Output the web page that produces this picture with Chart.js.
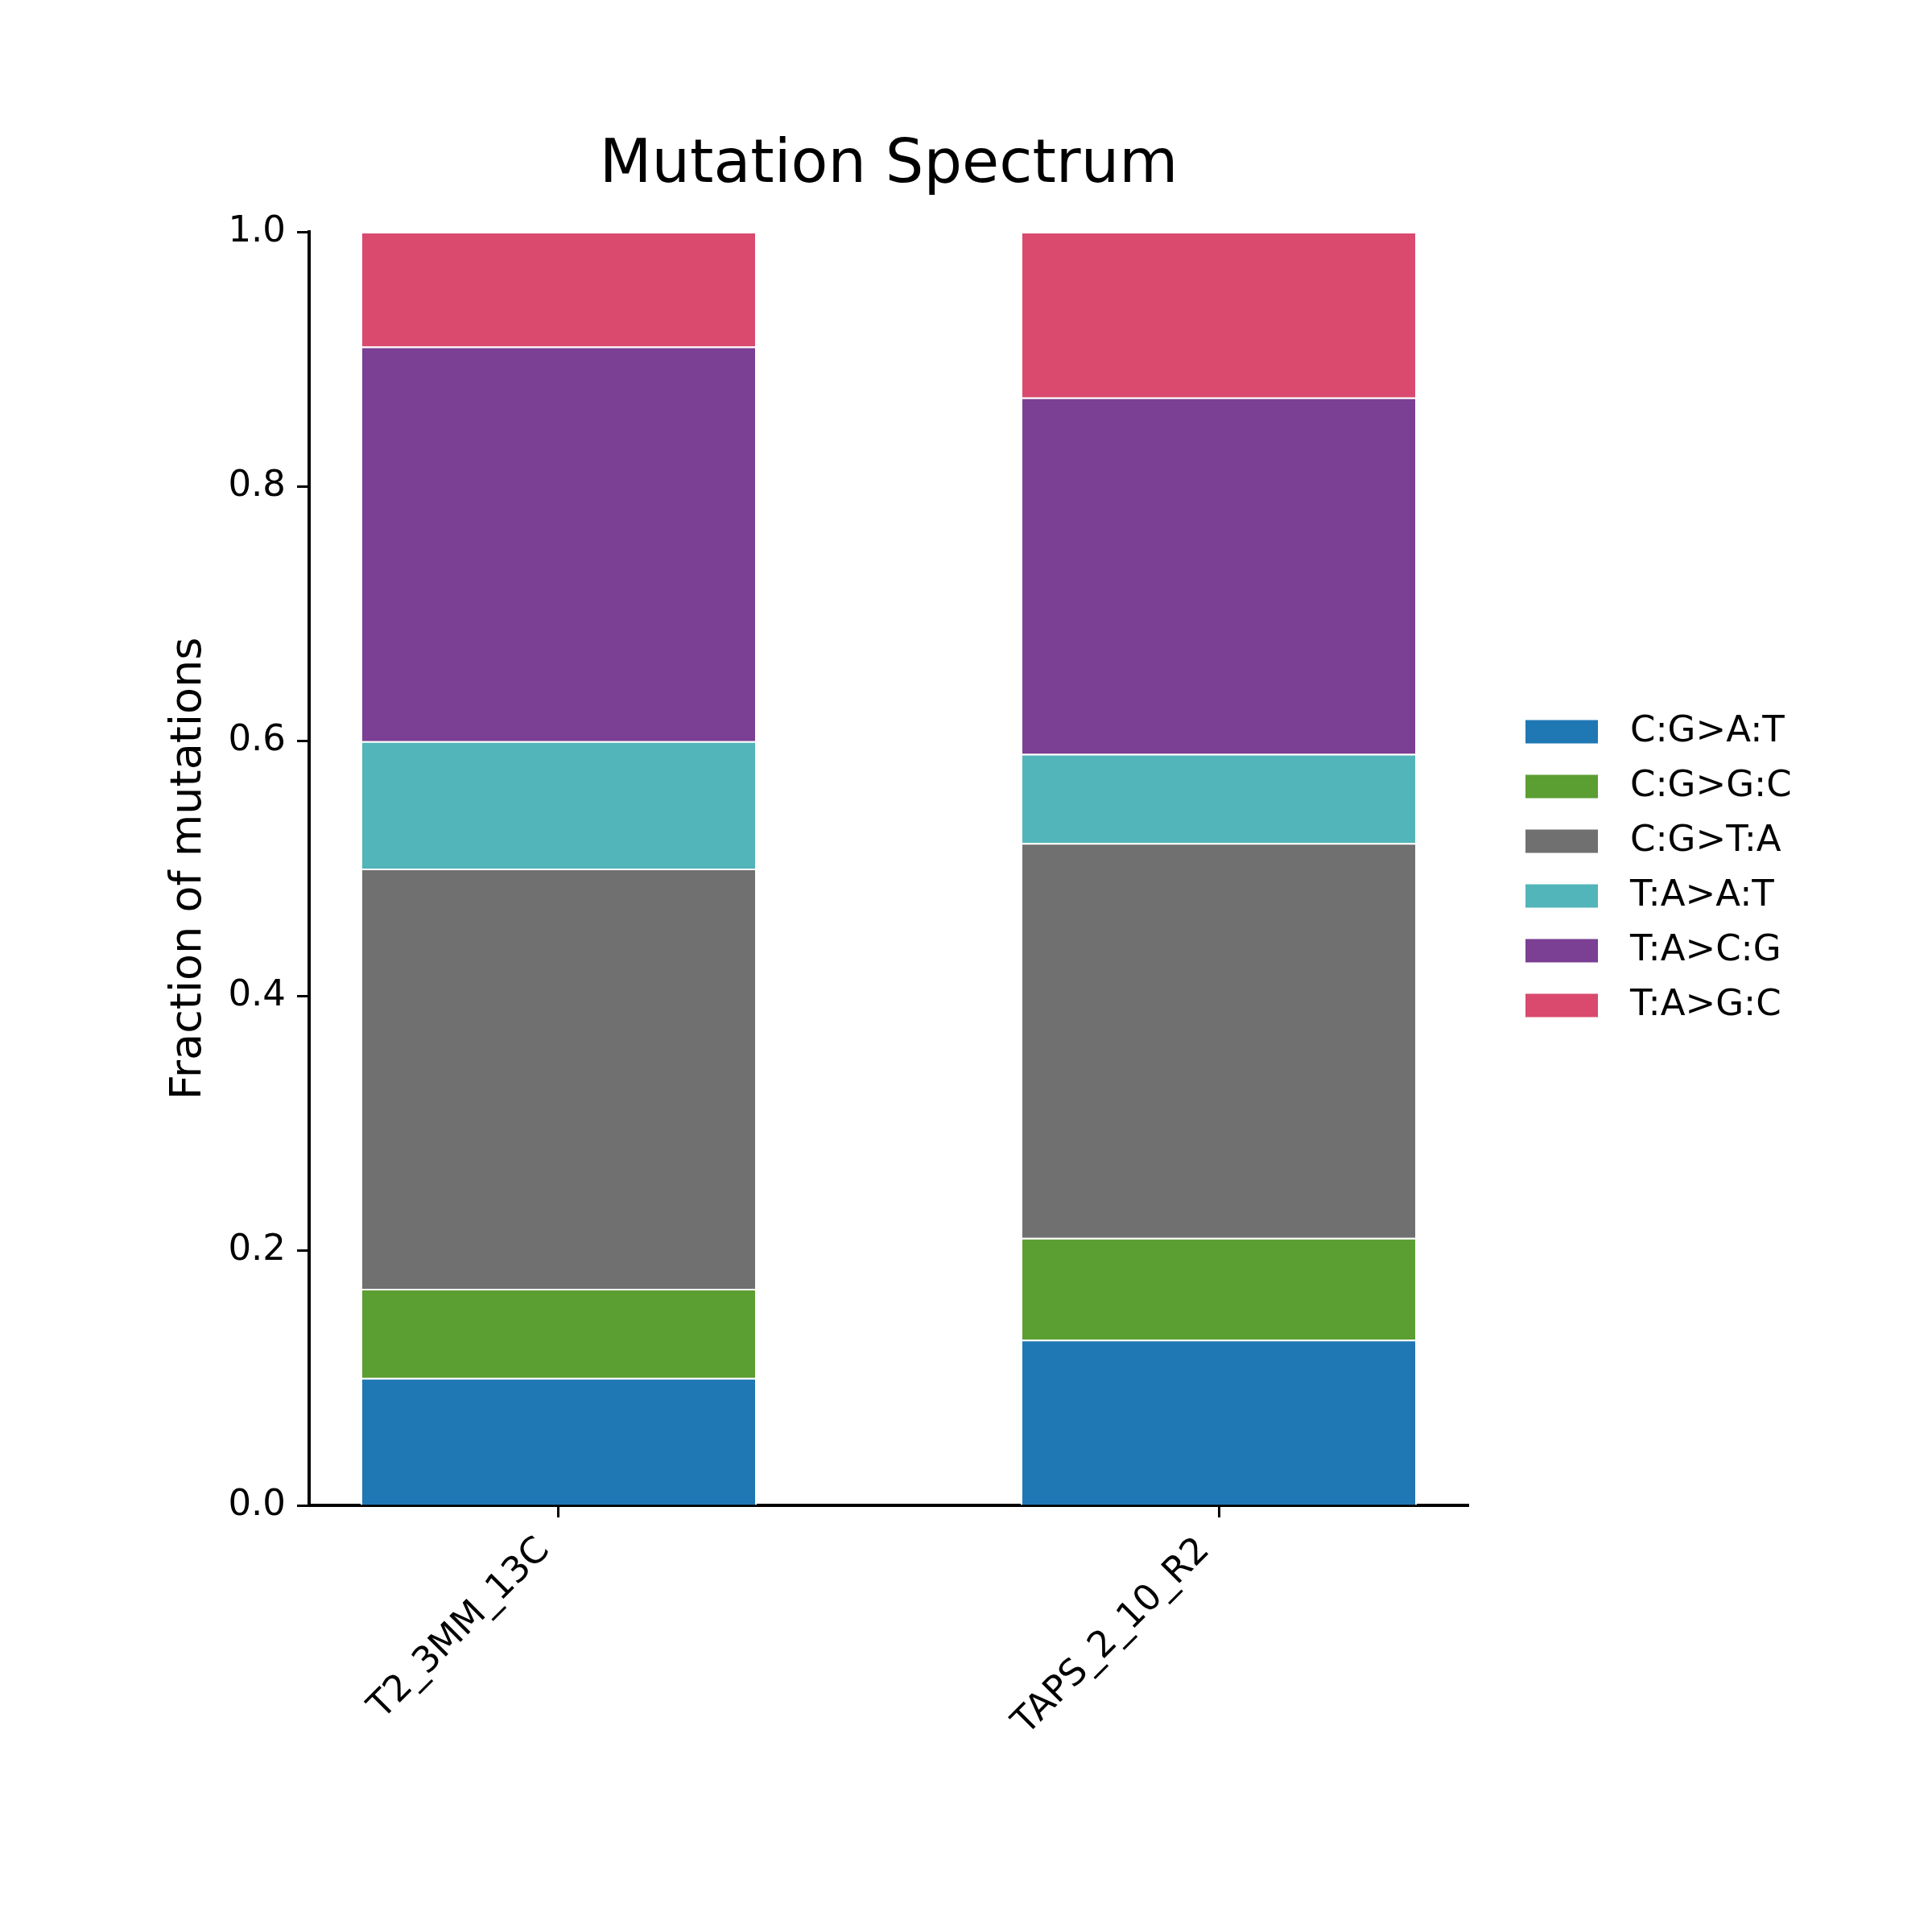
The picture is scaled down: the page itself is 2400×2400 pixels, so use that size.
<!DOCTYPE html>
<html>
<head>
<meta charset="utf-8">
<title>Mutation Spectrum</title>
<script src="https://cdn.jsdelivr.net/npm/chart.js@4.4.1/dist/chart.umd.min.js"></script>
<style>
  html, body { margin: 0; padding: 0; background: #ffffff; }
  #wrap { width: 2400px; height: 2400px; }
</style>
</head>
<body>
<div id="wrap"><canvas id="spectrumChart" width="2400" height="2400"></canvas></div>
<script>
document.addEventListener("DOMContentLoaded", () => {

    // --- DATA (fractions) ---
    const samples = ['T2_3MM_13C', 'TAPS_2_10_R2'];
    const mutationTypes = ['C:G>A:T', 'C:G>G:C', 'C:G>T:A', 'T:A>A:T', 'T:A>C:G', 'T:A>G:C'];
    const cgToAt = [0.10, 0.13];
    const cgToGc = [0.07, 0.08];
    const cgToTa = [0.33, 0.31];
    const taToAt = [0.10, 0.07];
    const taToCg = [0.31, 0.28];
    const taToGc = [0.09, 0.13];
    const yTicks = [0.0, 0.2, 0.4, 0.6, 0.8, 1.0];

    const seriesValues = [cgToAt, cgToGc, cgToTa, taToAt, taToCg, taToGc];

    // --- COLORS ---
    const typeColors = ['#1f77b4', '#5b9e32', '#707070', '#52b5b9', '#7b3f94', '#d94a6e'];

    const FONT = '"DejaVu Sans", sans-serif';

    // legend drawn to the right of the axes, centred on them
    const sideLegend = {
        id: 'sideLegend',
        afterDraw(chart) {
            const { ctx, chartArea } = chart;
            const datasets = chart.data.datasets;
            const rowGap = 68, boxW = 90, boxH = 29;
            const x0 = chartArea.right + 71;
            const midY = (chartArea.top + chartArea.bottom) / 2;
            ctx.save();
            ctx.font = '45px ' + FONT;
            ctx.textBaseline = 'middle';
            ctx.textAlign = 'left';
            datasets.forEach((ds, i) => {
                const y = midY + (i - (datasets.length - 1) / 2) * rowGap;
                ctx.fillStyle = ds.backgroundColor;
                ctx.fillRect(x0, y - boxH / 2, boxW, boxH);
                ctx.fillStyle = '#000000';
                ctx.fillText(ds.label, x0 + boxW + 40, y);
            });
            ctx.restore();
        }
    };

    const ctx = document.getElementById('spectrumChart').getContext('2d');
    const spectrumChart = new Chart(ctx, {
        type: 'bar',
        data: {
            datasets: mutationTypes.map((type, i) => ({
                label: type,
                data: samples.map((s, j) => ({ x: j, y: seriesValues[i][j] })),
                backgroundColor: typeColors[i],
                borderColor: '#ffffff',
                borderWidth: 2,
                borderSkipped: 'start',
                categoryPercentage: 1.0,
                barPercentage: 0.6
            }))
        },
        options: {
            responsive: false,
            devicePixelRatio: 1,
            animation: false,
            layout: { padding: { left: 0, right: 576, top: 0, bottom: 0 } },
            plugins: {
                legend: { display: false },
                tooltip: { enabled: false },
                title: {
                    display: true,
                    text: 'Mutation Spectrum',
                    fullSize: false,
                    color: '#000000',
                    font: { family: FONT, size: 75, weight: 'normal', lineHeight: 1.2 },
                    padding: { top: 162, bottom: 36 }
                }
            },
            scales: {
                x: {
                    type: 'linear',
                    stacked: true,
                    offset: false,
                    min: -0.378,
                    max: 1.378,
                    bounds: 'data',
                    afterBuildTicks: (axis) => {
                        axis.ticks = samples.map((s, j) => ({ value: j }));
                    },
                    afterFit: (axis) => { axis.height = 530; },
                    grid: {
                        offset: false,
                        drawOnChartArea: false,
                        drawTicks: true,
                        tickLength: 15,
                        tickWidth: 3,
                        tickColor: '#000000',
                        color: '#000000'
                    },
                    border: { display: true, color: '#000000', width: 4 },
                    ticks: {
                        autoSkip: false,
                        minRotation: 45,
                        maxRotation: 45,
                        padding: 15,
                        labelOffset: -18,
                        color: '#000000',
                        font: { family: FONT, size: 45 },
                        callback: (value) => samples[value]
                    }
                },
                y: {
                    stacked: true,
                    min: 0,
                    max: 1,
                    afterBuildTicks: (axis) => {
                        axis.ticks = yTicks.map(v => ({ value: v }));
                    },
                    afterFit: (axis) => { axis.width = 384; },
                    grid: {
                        drawOnChartArea: false,
                        drawTicks: true,
                        tickLength: 15,
                        tickWidth: 3,
                        tickColor: '#000000',
                        color: '#000000'
                    },
                    border: { display: true, color: '#000000', width: 4 },
                    ticks: {
                        padding: 14,
                        color: '#000000',
                        font: { family: FONT, size: 45 },
                        callback: (value) => Number(value).toFixed(1)
                    },
                    title: {
                        display: true,
                        text: 'Fraction of mutations',
                        color: '#000000',
                        font: { family: FONT, size: 54, lineHeight: 1.2 },
                        padding: { top: 203, bottom: 0 }
                    }
                }
            }
        },
        plugins: [sideLegend]
    });

});
</script>
</body>
</html>
